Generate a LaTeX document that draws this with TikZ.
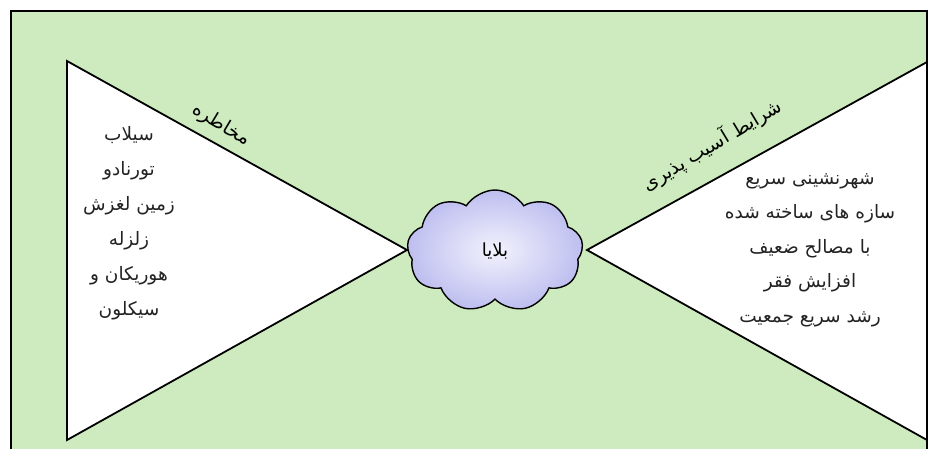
\documentclass[tikz,border=0pt]{standalone}
\usepackage{fontspec}
\usetikzlibrary{shapes.symbols}
\newfontfamily\fa[Script=Arabic]{DejaVu Sans}
\TeXXeTstate=1
\definecolor{bggreen}{RGB}{205,235,190}
\definecolor{cloudout}{RGB}{190,190,240}
\definecolor{cloudin}{RGB}{242,242,253}
\definecolor{txt}{RGB}{35,35,35}
\tikzset{
  tri/.style={draw=black, line width=1.8pt, fill=white, line join=miter},
  listtext/.style={font=\fa\fontsize{18.5}{35}\selectfont, text=txt, align=center},
  edgelabel/.style={font=\fa\fontsize{19}{21}\selectfont, text=black, inner sep=1pt},
}
\begin{document}
\begin{tikzpicture}[x=1pt,y=-1pt]
\useasboundingbox (0,0) rectangle (928,448);
\clip (0,0) rectangle (928,448);
\fill[white] (0,0) rectangle (928,448);
\fill[bggreen] (11,11) rectangle (927,460);
\draw[line width=1.8pt] (11,460) -- (11,11) -- (927,11) -- (927,460);
% triangle corners
\coordinate (lt) at (67,61);
\coordinate (lb) at (67,440);
\coordinate (rt) at (927,62);
\coordinate (rb) at (927,440);
\coordinate (ltip) at (407,250);
\coordinate (rtip) at (587,250);
\draw[tri] (lt) -- (ltip) -- (lb) -- cycle;
\draw[tri] (rt) -- (rtip) -- (rb) -- cycle;
\node[cloud, cloud puffs=9, cloud puff arc=115, aspect=1.45, minimum width=176pt, minimum height=122pt,
      draw=black, line width=1.4pt, inner color=cloudin, outer color=cloudout] (cloud) at (495,251) {};
\node[font=\fa\fontsize{18}{20}\selectfont] (bal) at (cloud.center) {\beginR بلایا\endR};
% edge labels
\node[edgelabel, rotate=-31] (haz) at (221,125) {\beginR مخاطره\endR};
\node[edgelabel, rotate=31] (vul) at (712,145) {\beginR شرایط آسیب پذیری\endR};
% lists
\node[listtext] (hazlist) at (129,223) {\beginR سیلاب\endR\\\beginR تورنادو\endR\\\beginR زمین لغزش\endR\\\beginR زلزله\endR\\\beginR هوریکان و\endR\\\beginR سیکلون\endR};
\node[listtext, font=\fa\fontsize{18.5}{34.5}\selectfont] (vullist) at (810,250) {\beginR شهرنشینی سریع\endR\\\beginR سازه های ساخته شده\endR\\\beginR با مصالح ضعیف\endR\\\beginR افزایش فقر\endR\\\beginR رشد سریع جمعیت\endR};
\end{tikzpicture}
\end{document}
